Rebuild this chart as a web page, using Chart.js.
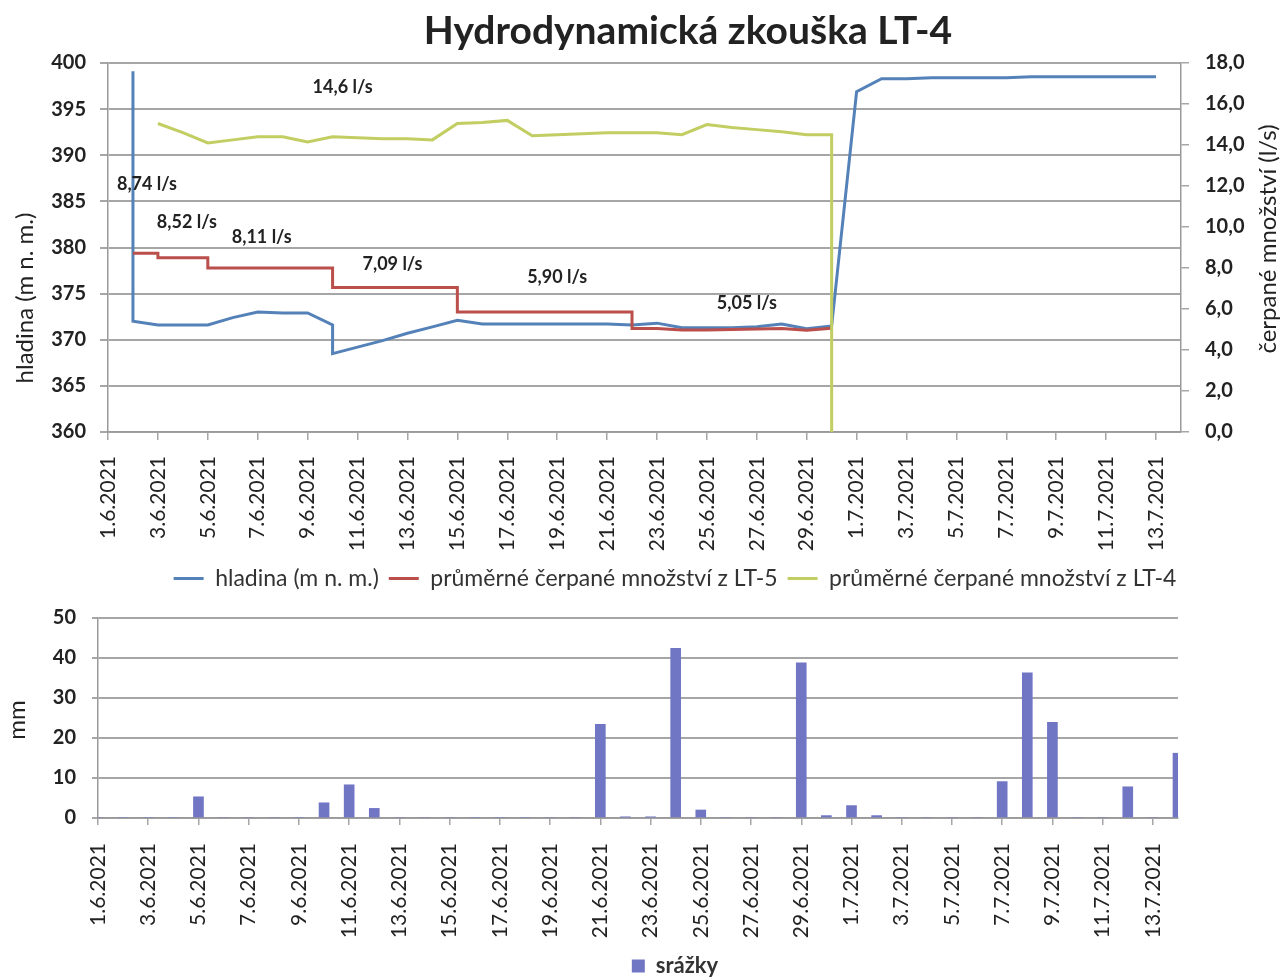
<!DOCTYPE html>
<html>
<head>
<meta charset="utf-8">
<script src="https://cdn.jsdelivr.net/npm/chart.js@4.4.0/dist/chart.umd.min.js"></script>
<style>
  html, body { margin: 0; padding: 0; background: #fff; overflow: hidden; }
  #wrap { position: relative; width: 1283px; height: 978px; overflow: hidden; }
  #topChart { position: absolute; left: 0; top: 0; }
  #rainChart { position: absolute; left: 0; top: 590px; }
</style>
</head>
<body>
<div id="wrap">
  <canvas id="topChart" width="1350" height="600"></canvas>
  <canvas id="rainChart" width="1350" height="397"></canvas>
</div>
<script>
// x axis: day index 0 = 1.6.2021 ... 43 = 14.7.2021
const days = ['1.6.2021','2.6.2021','3.6.2021','4.6.2021','5.6.2021','6.6.2021','7.6.2021','8.6.2021',
  '9.6.2021','10.6.2021','11.6.2021','12.6.2021','13.6.2021','14.6.2021','15.6.2021','16.6.2021',
  '17.6.2021','18.6.2021','19.6.2021','20.6.2021','21.6.2021','22.6.2021','23.6.2021','24.6.2021',
  '25.6.2021','26.6.2021','27.6.2021','28.6.2021','29.6.2021','30.6.2021','1.7.2021','2.7.2021',
  '3.7.2021','4.7.2021','5.7.2021','6.7.2021','7.7.2021','8.7.2021','9.7.2021','10.7.2021',
  '11.7.2021','12.7.2021','13.7.2021','14.7.2021'];

// hladina (m n. m.)
const levelDay = [1, 1, 2, 3, 4, 5, 6, 7, 8, 9, 9, 10, 11, 12, 13, 14, 15, 16, 17, 18, 19, 20, 21,
  22, 23, 24, 25, 26, 27, 28, 29, 30, 31, 32, 33, 34, 35, 36, 37, 38, 39, 40, 41, 42];
const level = [399.1, 372.0, 371.6, 371.6, 371.6, 372.4, 373.0, 372.9, 372.9, 371.6, 368.5, 369.2, 369.9,
  370.7, 371.4, 372.1, 371.7, 371.7, 371.7, 371.7, 371.7, 371.7, 371.6, 371.8, 371.3, 371.3, 371.3,
  371.4, 371.7, 371.2, 371.5, 396.9, 398.3, 398.3, 398.4, 398.4, 398.4, 398.4, 398.5, 398.5, 398.5,
  398.5, 398.5, 398.5];

// průměrné čerpané množství z LT-5 (l/s)
const lt5Day = [1, 2, 2, 4, 4, 9, 9, 14, 14, 21, 21, 22, 23, 24, 25, 26, 27, 28, 29];
const lt5 = [8.72, 8.72, 8.5, 8.5, 8.0, 8.0, 7.05, 7.05, 5.85, 5.85, 5.05, 5.05, 4.98, 4.98, 5.0, 5.02,
  5.05, 4.96, 5.06];

// průměrné čerpané množství z LT-4 (l/s)
const lt4Day = [2, 3, 4, 5, 6, 7, 8, 9, 10, 11, 12, 13, 14, 15, 16, 17, 18, 19, 20, 21, 22, 23, 24,
  25, 26, 27, 28, 29, 29];
const lt4 = [15.05, 14.6, 14.1, 14.25, 14.4, 14.4, 14.15, 14.4, 14.35, 14.3, 14.3, 14.25, 15.05, 15.1,
  15.2, 14.45, 14.5, 14.55, 14.6, 14.6, 14.6, 14.5, 15.0, 14.85, 14.75, 14.65, 14.5, 14.5, 0];

// srážky (mm), one value per day
const rain = [0, 0, 0, 0, 5.3, 0, 0, 0, 0, 3.8, 8.3, 2.4, 0, 0, 0, 0, 0, 0, 0, 0, 23.4, 0.3, 0.3,
  42.4, 2.0, 0, 0, 0, 38.8, 0.6, 3.1, 0.6, 0, 0, 0, 0, 9.1, 36.3, 23.9, 0, 0, 7.8, 0, 16.2];

// flow labels written in the upper chart
const flowText = ['14,6 l/s', '8,74 l/s', '8,52 l/s', '8,11 l/s', '7,09 l/s', '5,90 l/s', '5,05 l/s'];
const flowTextDay = [9.4, 1.56, 3.16, 6.16, 11.4, 18.0, 25.6];
const flowTextValue = [16.8, 12.1, 10.25, 9.5, 8.2, 7.57, 6.26];

const blue = '#5482b8';
const red = '#bb4f4c';
const yellow = '#c2cd62';
const barColor = '#7075c4';
const gridColor = '#a6a6a6';
const axisColor = '#9a9a9a';
const textColor = '#222';

Chart.defaults.font.family = 'Lato, sans-serif';
Chart.defaults.color = textColor;

const pts = (xs, ys) => xs.map((d, i) => ({ x: d, y: ys[i] }));
// one tick every second day, 1.6. ... 13.7.
const evenTicks = s => { s.ticks = days.map((d, i) => ({ value: i })).filter(t => t.value % 2 === 0 && t.value <= 42); };

const topTexts = {
  id: 'topTexts',
  afterDraw(chart) {
    const { ctx } = chart;
    const { x, y1 } = chart.scales;
    ctx.save();
    ctx.fillStyle = textColor;
    ctx.textAlign = 'center';
    ctx.textBaseline = 'middle';
    ctx.font = 'bold 39px Lato';
    ctx.fillText('Hydrodynamická zkouška LT-4', 688, 31);
    ctx.font = 'bold 18px Lato';
    flowText.forEach((t, i) => {
      ctx.fillText(t, x.getPixelForValue(flowTextDay[i]), y1.getPixelForValue(flowTextValue[i]));
    });
    ctx.font = '24px Lato';
    ctx.translate(25, 298);
    ctx.rotate(-Math.PI / 2);
    ctx.fillText('hladina (m n. m.)', 0, 0);
    ctx.setTransform(1, 0, 0, 1, 0, 0);
    ctx.translate(1268, 239);
    ctx.rotate(-Math.PI / 2);
    ctx.fillText('čerpané množství (l/s)', 0, 0);
    ctx.restore();
  }
};

new Chart(document.getElementById('topChart'), {
  type: 'line',
  data: {
    datasets: [
      { label: 'hladina (m n. m.)', data: pts(levelDay, level), yAxisID: 'y',
        borderColor: blue, backgroundColor: blue, order: 3 },
      { label: 'průměrné čerpané množství z LT-5', data: pts(lt5Day, lt5), yAxisID: 'y1',
        borderColor: red, backgroundColor: red, order: 2 },
      { label: 'průměrné čerpané množství z LT-4', data: pts(lt4Day, lt4), yAxisID: 'y1',
        borderColor: yellow, backgroundColor: yellow, order: 1 }
    ]
  },
  options: {
    responsive: false,
    animation: false,
    devicePixelRatio: 1,
    layout: { padding: { top: 63, left: 0, right: 0, bottom: 0 } },
    elements: { point: { radius: 0 }, line: { borderWidth: 3, tension: 0 } },
    plugins: {
      tooltip: { enabled: false },
      legend: {
        position: 'bottom',
        labels: {
          boxWidth: 30, boxHeight: 3, padding: 10, color: '#333', font: { size: 23 },
          sort: (a, b) => a.datasetIndex - b.datasetIndex,
          generateLabels: chart => Chart.defaults.plugins.legend.labels.generateLabels(chart)
            .map(l => ({ ...l, lineWidth: 0, fillStyle: l.strokeStyle }))
        }
      }
    },
    scales: {
      x: {
        type: 'linear', min: 0, max: 43, offset: false,
        afterBuildTicks: evenTicks,
        afterFit: s => { s.height = 125; },
        grid: { drawOnChartArea: false, offset: false, tickLength: 8, color: gridColor, lineWidth: 1.5 },
        border: { color: axisColor, width: 1.5 },
        ticks: { autoSkip: false, minRotation: 90, maxRotation: 90, padding: 16,
          font: { size: 21 }, callback: v => days[v] }
      },
      y: {
        position: 'left', min: 360, max: 400,
        afterFit: s => { s.width = 108; },
        grid: { color: gridColor, lineWidth: 2, tickLength: 8 },
        border: { color: axisColor, width: 1.5 },
        ticks: { stepSize: 5, padding: 14, font: { size: 20, weight: 'bold' } }
      },
      y1: {
        position: 'right', min: 0, max: 18,
        afterFit: s => { s.width = 169; },
        grid: { drawOnChartArea: false, color: gridColor, lineWidth: 1.5, tickLength: 8 },
        border: { color: axisColor, width: 1.5 },
        ticks: { stepSize: 2, padding: 16, font: { size: 20, weight: 'bold' },
          callback: v => v.toFixed(1).replace('.', ',') }
      }
    }
  },
  plugins: [topTexts]
});

const rainTexts = {
  id: 'rainTexts',
  afterDraw(chart) {
    const { ctx } = chart;
    ctx.save();
    ctx.fillStyle = textColor;
    ctx.textAlign = 'center';
    ctx.textBaseline = 'middle';
    ctx.font = '24px Lato';
    ctx.translate(17, 130);
    ctx.rotate(-Math.PI / 2);
    ctx.fillText('mm', 0, 0);
    ctx.restore();
  }
};

new Chart(document.getElementById('rainChart'), {
  type: 'bar',
  data: {
    datasets: [
      { label: 'srážky', data: rain.map((v, i) => ({ x: i, y: v })), backgroundColor: barColor,
        barThickness: 10, clip: 0 }
    ]
  },
  options: {
    responsive: false,
    animation: false,
    devicePixelRatio: 1,
    layout: { padding: { top: 0, left: 0, right: 0, bottom: 0 } },
    plugins: {
      tooltip: { enabled: false },
      legend: {
        position: 'bottom',
        labels: { boxWidth: 13, boxHeight: 13, padding: 2, color: '#333', font: { size: 22, weight: 'bold' } }
      }
    },
    scales: {
      x: {
        type: 'linear', min: 0, max: 43, offset: false,
        afterBuildTicks: evenTicks,
        afterFit: s => { s.height = 135; },
        grid: { drawOnChartArea: false, offset: false, tickLength: 7, color: gridColor, lineWidth: 1.5 },
        border: { color: axisColor, width: 1.5 },
        ticks: { autoSkip: false, minRotation: 90, maxRotation: 90, padding: 18,
          font: { size: 21 }, callback: v => days[v] }
      },
      y: {
        position: 'left', min: 0, max: 50,
        afterFit: s => { s.width = 98; },
        grid: { color: gridColor, lineWidth: 2, tickLength: 6 },
        border: { color: axisColor, width: 1.5 },
        ticks: { stepSize: 10, padding: 16, font: { size: 20, weight: 'bold' } }
      },
      yr: {
        position: 'right', display: true,
        afterFit: s => { s.width = 172; },
        grid: { display: false },
        border: { display: false },
        ticks: { display: false }
      }
    }
  },
  plugins: [rainTexts]
});
</script>
</body>
</html>
